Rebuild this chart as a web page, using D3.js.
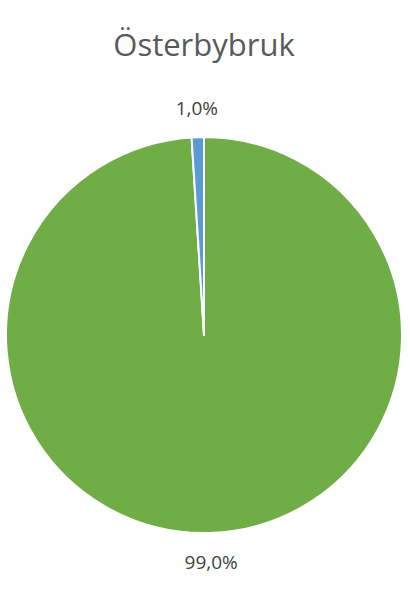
<!DOCTYPE html>
<html lang="sv">
<head>
  <meta charset="UTF-8">
  <title>Österbybruk</title>
  <script src="https://cdn.jsdelivr.net/npm/d3@7/dist/d3.min.js"></script>
  <style>
    body { margin: 0; background: #fff; }
  </style>
</head>
<body>
  <div id="chart"></div>

  <script>
    // Data
    var title = "Österbybruk";
    var categories = ["Övrigt", "Andel"];
    var values = [99.0, 1.0];
    var colors = ["#70ad47", "#5b9bd5"];

    var width = 410, height = 600;
    var cx = 204, cy = 335, radius = 198;

    var svg = d3.select("#chart")
      .append("svg")
      .attr("width", width)
      .attr("height", height);

    // Title
    svg.append("text")
      .attr("x", 204)
      .attr("y", 56)
      .attr("text-anchor", "middle")
      .style("font-family", "'Open Sans', sans-serif")
      .style("font-size", "31px")
      .style("fill", "#595959")
      .text(title);

    var pie = d3.pie().sort(null).value(function(d) { return d; });
    var arc = d3.arc().innerRadius(0).outerRadius(radius);

    var g = svg.append("g")
      .attr("transform", "translate(" + cx + "," + cy + ")");

    var arcs = pie(values);

    g.selectAll("path")
      .data(arcs)
      .enter()
      .append("path")
      .attr("d", arc)
      .attr("fill", function(d, i) { return colors[i]; })
      .attr("stroke", "#fff")
      .attr("stroke-width", 2)
      .attr("stroke-linejoin", "round");

    // Outside end labels
    var fmt = function(v) { return v.toFixed(1).replace(".", ",") + "%"; };
    var labelR = radius + 29;

    g.selectAll(".label")
      .data(arcs)
      .enter()
      .append("text")
      .attr("class", "label")
      .attr("x", function(d) {
        var a = (d.startAngle + d.endAngle) / 2;
        return Math.sin(a) * labelR;
      })
      .attr("y", function(d) {
        var a = (d.startAngle + d.endAngle) / 2;
        return -Math.cos(a) * labelR;
      })
      .attr("dy", "0.35em")
      .attr("text-anchor", "middle")
      .style("font-family", "'Open Sans', sans-serif")
      .style("font-size", "19px")
      .style("fill", "#404040")
      .text(function(d) { return fmt(d.data); });
  </script>
</body>
</html>
